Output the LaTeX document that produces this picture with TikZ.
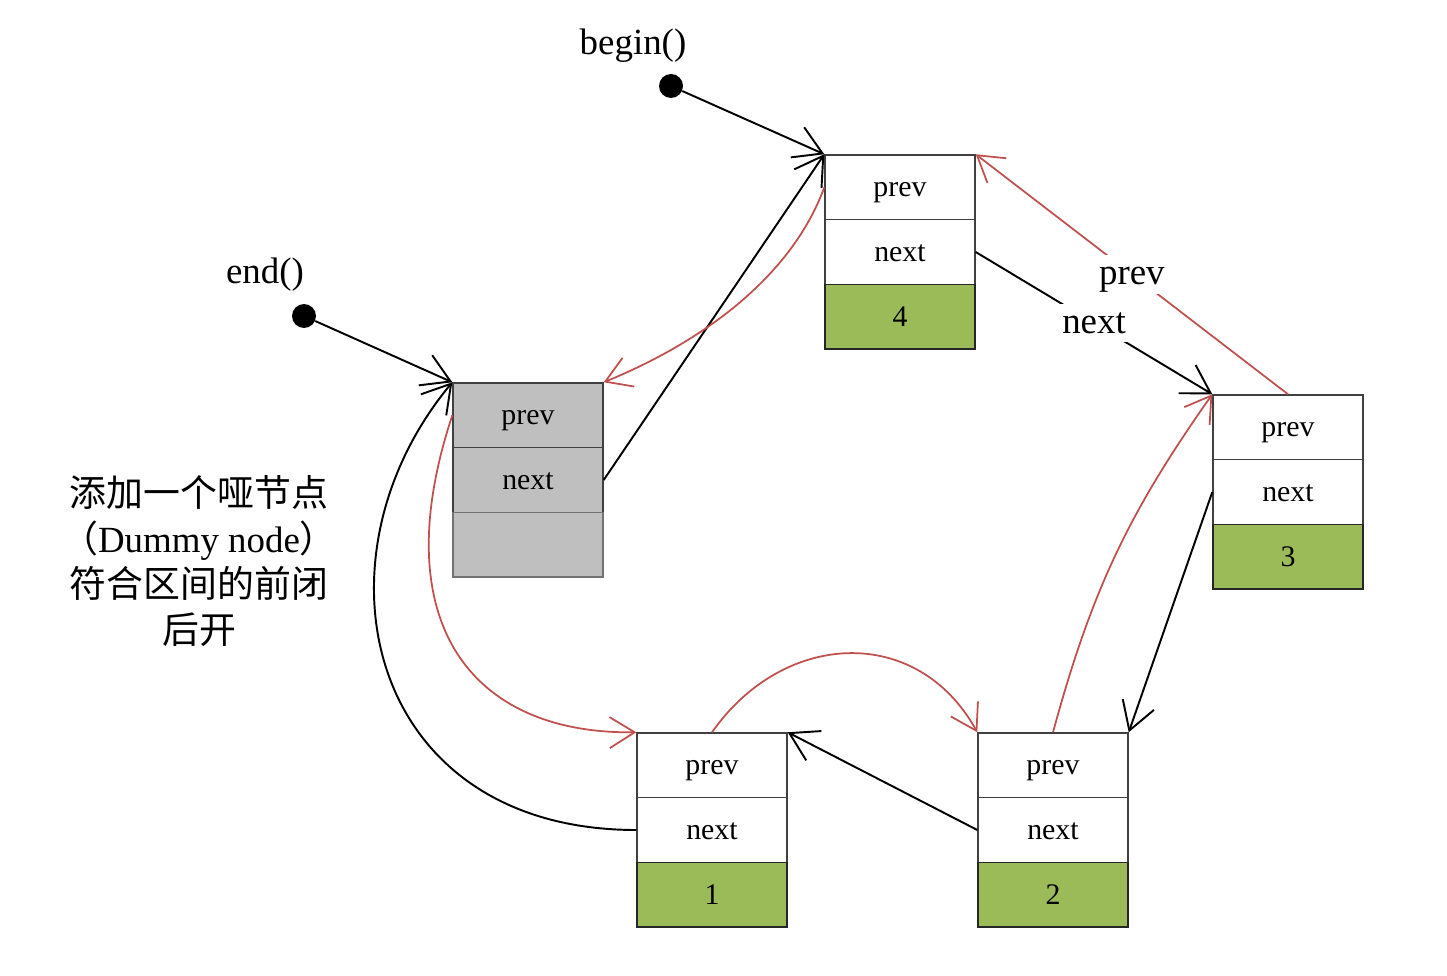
\documentclass[tikz,border=0pt]{standalone}
\usepackage{fontspec}
\setmainfont{Liberation Serif}
\newfontfamily\cjk{Noto Sans CJK SC}
\usetikzlibrary{arrows.meta}
\definecolor{lred}{HTML}{C0504D}
\definecolor{lgreen}{HTML}{9BBB59}
\definecolor{lgray}{HTML}{BFBFBF}
\begin{document}
\begin{tikzpicture}[x=0.02cm,y=-0.02cm,
  cell/.style={draw=black!75, line width=0.8pt, minimum width=3cm, minimum height=1.2933cm, inner sep=0pt, font=\fontsize{17}{20}\selectfont, text height=12pt, text depth=1.2pt},
  wcell/.style={cell, fill=white},
  gcell/.style={cell, fill=lgray},
  dcell/.style={cell, fill=lgreen, draw=black!85},
  dot/.style={circle, fill=black, minimum size=0.48cm, inner sep=0pt},
  lbl/.style={font=\fontsize{21}{24}\selectfont},
  blk/.style={draw=black, line width=1.1pt, -{Straight Barb[length=0.55cm,width=0.66cm]}},
  rarr/.style={draw=lred, line width=1pt, -{Straight Barb[length=0.5cm,width=0.62cm]}},
  gap/.style={lbl, fill=white, inner sep=3pt, text height=14pt, text depth=2pt}
]
\useasboundingbox (0,0) rectangle (1447,976);

% node 4
\node[wcell] (n4p) at (900,187.3) {prev};
\node[wcell] (n4n) at (900,252) {next};
\node[dcell] (n4d) at (900,316.7) {4};
% dummy
\node[gcell] (dp) at (528,415.3) {prev};
\node[gcell] (dn) at (528,480) {next};
\node[gcell, draw=black!55] (dd) at (528,544.7) {};
% node 3
\node[wcell] (n3p) at (1288,427.3) {prev};
\node[wcell] (n3n) at (1288,492) {next};
\node[dcell] (n3d) at (1288,556.7) {3};
% node 1
\node[wcell] (n1p) at (712,765.3) {prev};
\node[wcell] (n1n) at (712,830) {next};
\node[dcell] (n1d) at (712,894.7) {1};
% node 2
\node[wcell] (n2p) at (1053,765.3) {prev};
\node[wcell] (n2n) at (1053,830) {next};
\node[dcell] (n2d) at (1053,894.7) {2};

% iterators
\node[lbl] (bl) at (633,46) {begin()};
\node[dot] (bd) at (671,86) {};
\node[lbl] (el) at (265,275) {end()};
\node[dot] (ed) at (304,316) {};

% note
\node[align=center, font=\fontsize{21}{26}\selectfont] (note) at (199,561)
  {{\cjk 添加一个哑节点}\\{\cjk （}Dummy node{\cjk ）}\\{\cjk 符合区间的前闭}\\{\cjk 后开}};

% black next links
\draw[blk] (bd) -- (n4p.north west);
\draw[blk] (ed) -- (dp.north west);
\draw[blk] (dn.east) -- (n4p.north west);
\draw[rarr] (n3p.north) -- node[gap, pos=0.5] {prev} (n4p.north east);
\draw[blk] (n4n.east) -- node[gap, pos=0.5] {next} (n3p.north west);
\draw[blk] (n3n.west) -- (n2p.north east);
\draw[blk] (n2n.west) -- (n1p.north east);
\draw[blk] (n1n.west) .. controls +(-270,0) and +(-147,177) .. (dp.north west);

% red prev links
\draw[rarr] (n4p.west) .. controls +(-33,90) and +(98,-40) .. (dp.north east);
\draw[rarr] (dp.west) .. controls +(-68,205) and +(-167,2) .. (n1p.north west);
\draw[rarr] (n1p.north) to[out=55, in=119, looseness=1.2] (n2p.north west);
\draw[rarr] (n2p.north) to[bend left=10] (n3p.north west);
\end{tikzpicture}
\end{document}
